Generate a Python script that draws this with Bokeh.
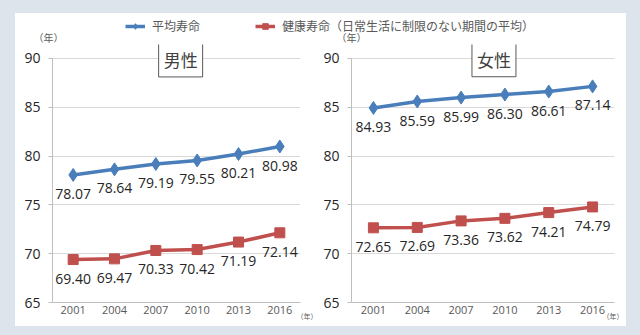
from bokeh.plotting import figure
from bokeh.layouts import row, column
from bokeh.models import Range1d, Label, Legend, LegendItem, FactorRange, FixedTicker, Spacer, Title
from bokeh.core.properties import value
from bokeh.embed import file_html
from bokeh.resources import INLINE

years = ["2001", "2004", "2007", "2010", "2013", "2016"]
male_avg = [78.07, 78.64, 79.19, 79.55, 80.21, 80.98]
male_healthy = [69.40, 69.47, 70.33, 70.42, 71.19, 72.14]
female_avg = [84.93, 85.59, 85.99, 86.30, 86.61, 87.14]
female_healthy = [72.65, 72.69, 73.36, 73.62, 74.21, 74.79]
y_ticks = [65, 70, 75, 80, 85, 90]
legend_labels = ["平均寿命", "健康寿命（日常生活に制限のない期間の平均）"]
panel_titles = ["男性", "女性"]
unit_label = "（年）"

BG = "#dde4ec"
BLUE = "#4a7ebb"
RED = "#c0504d"
NUM_FONT = "Open Sans"
JP_FONT = "Noto Sans CJK JP"


def make_chart(title, avg, healthy, width, left, right, title_x, title_y, unit_offset):
    p = figure(x_range=FactorRange(*years), y_range=Range1d(65, 91.43),
               width=width, height=282, output_backend="svg", toolbar_location=None,
               min_border_left=left, min_border_right=right,
               min_border_top=0, min_border_bottom=24)
    p.outline_line_color = None
    p.background_fill_color = "white"
    p.border_fill_color = "white"
    p.xgrid.grid_line_color = None
    p.ygrid.grid_line_color = "#d9d9d9"
    p.yaxis.ticker = FixedTicker(ticks=y_ticks)
    p.yaxis.bounds = (65, 90)
    p.yaxis.axis_line_color = "#bfbfbf"
    p.yaxis.major_tick_line_color = "#bfbfbf"
    p.yaxis.major_tick_out = 4
    p.yaxis.major_tick_in = 0
    p.yaxis.minor_tick_line_color = None
    p.yaxis.major_label_standoff = 8
    p.yaxis.major_label_text_font = NUM_FONT
    p.yaxis.major_label_text_font_size = "14px"
    p.yaxis.major_label_text_color = "#262626"
    p.xaxis.axis_line_color = "#bfbfbf"
    p.xaxis.major_tick_line_color = None
    p.xaxis.major_tick_out = 0
    p.xaxis.major_tick_in = 0
    p.xaxis.minor_tick_line_color = None
    p.xaxis.minor_tick_out = 0
    p.xaxis.major_label_standoff = 3
    p.xaxis.major_label_text_font = NUM_FONT
    p.xaxis.major_label_text_font_size = "11px"
    p.xaxis.major_label_text_color = "#595959"

    for vals, col, marker, size in [(avg, BLUE, "diamond", 13), (healthy, RED, "square", 10)]:
        p.line(years, vals, line_color=col, line_width=3.5)
        p.scatter(years, vals, marker=marker, size=size, fill_color=col, line_color=col)
        p.text(x=years, y=vals, text=[f"{v:.2f}" for v in vals], y_offset=19,
               text_align="center", text_baseline="middle",
               text_font=value(NUM_FONT), text_font_size="14px", text_color="#262626")

    p.add_layout(Label(x=title_x, y=title_y, text=title, text_align="center",
                       text_baseline="middle", text_font=JP_FONT, text_font_size="17px",
                       text_color="#404040", border_line_color="#595959", border_line_width=1,
                       background_fill_color="white", padding=5))
    p.add_layout(Title(text=unit_label, align="right", vertical_align="top",
                       offset=unit_offset, standoff=-12,
                       text_font=JP_FONT, text_font_size="7px", text_font_style="normal",
                       text_color="#595959"), "below")
    return p


p1 = make_chart(panel_titles[0], male_avg, male_healthy, 305, 37, 20, 3.1, 89.9, -17)
p2 = make_chart(panel_titles[1], female_avg, female_healthy, 306, 31, 12, 3.25, 89.92, -9)

LEG_W, LEG_H = 611, 31
leg = figure(width=LEG_W, height=LEG_H, output_backend="svg", toolbar_location=None,
             x_axis_type=None, y_axis_type=None, x_range=Range1d(0, LEG_W),
             y_range=Range1d(0, LEG_H), min_border=0)
leg.outline_line_color = None
leg.grid.grid_line_color = None
leg.border_fill_color = "white"
leg.background_fill_color = "white"
# legend-only renderers kept outside the visible range
r1l = leg.line(x=[-20, -10], y=[-20, -10], line_color=BLUE, line_width=3.5)
r1s = leg.scatter(x=[-20], y=[-20], marker="diamond", size=10, fill_color=BLUE, line_color=BLUE)
r2l = leg.line(x=[-20, -10], y=[-20, -10], line_color=RED, line_width=3.5)
r2s = leg.scatter(x=[-20], y=[-20], marker="square", size=9, fill_color=RED, line_color=RED)
legend = Legend(items=[LegendItem(label=legend_labels[0], renderers=[r1l, r1s]),
                       LegendItem(label=legend_labels[1], renderers=[r2l, r2s])],
                location=(110, 10), orientation="horizontal", spacing=55,
                padding=0, margin=0, border_line_color=None, background_fill_alpha=0,
                label_text_font=JP_FONT, label_text_font_size="12px",
                label_text_color="#595959", glyph_width=20, glyph_height=14,
                label_height=14, label_standoff=7)
leg.add_layout(legend, "center")
for ux in (33, 336):
    leg.add_layout(Label(x=ux, y=7, text=unit_label, text_align="center",
                         text_baseline="middle", text_font=JP_FONT, text_font_size="10px",
                         text_color="#595959"))

inner = column(leg, row(p1, p2, spacing=0), spacing=0, styles={"background-color": "white"})
layout = column(Spacer(width=640, height=13),
                row(Spacer(width=15, height=313), inner, Spacer(width=14, height=313), spacing=0),
                Spacer(width=640, height=9),
                spacing=0, styles={"background-color": BG})

open("out.html", "w").write(file_html(layout, INLINE))
